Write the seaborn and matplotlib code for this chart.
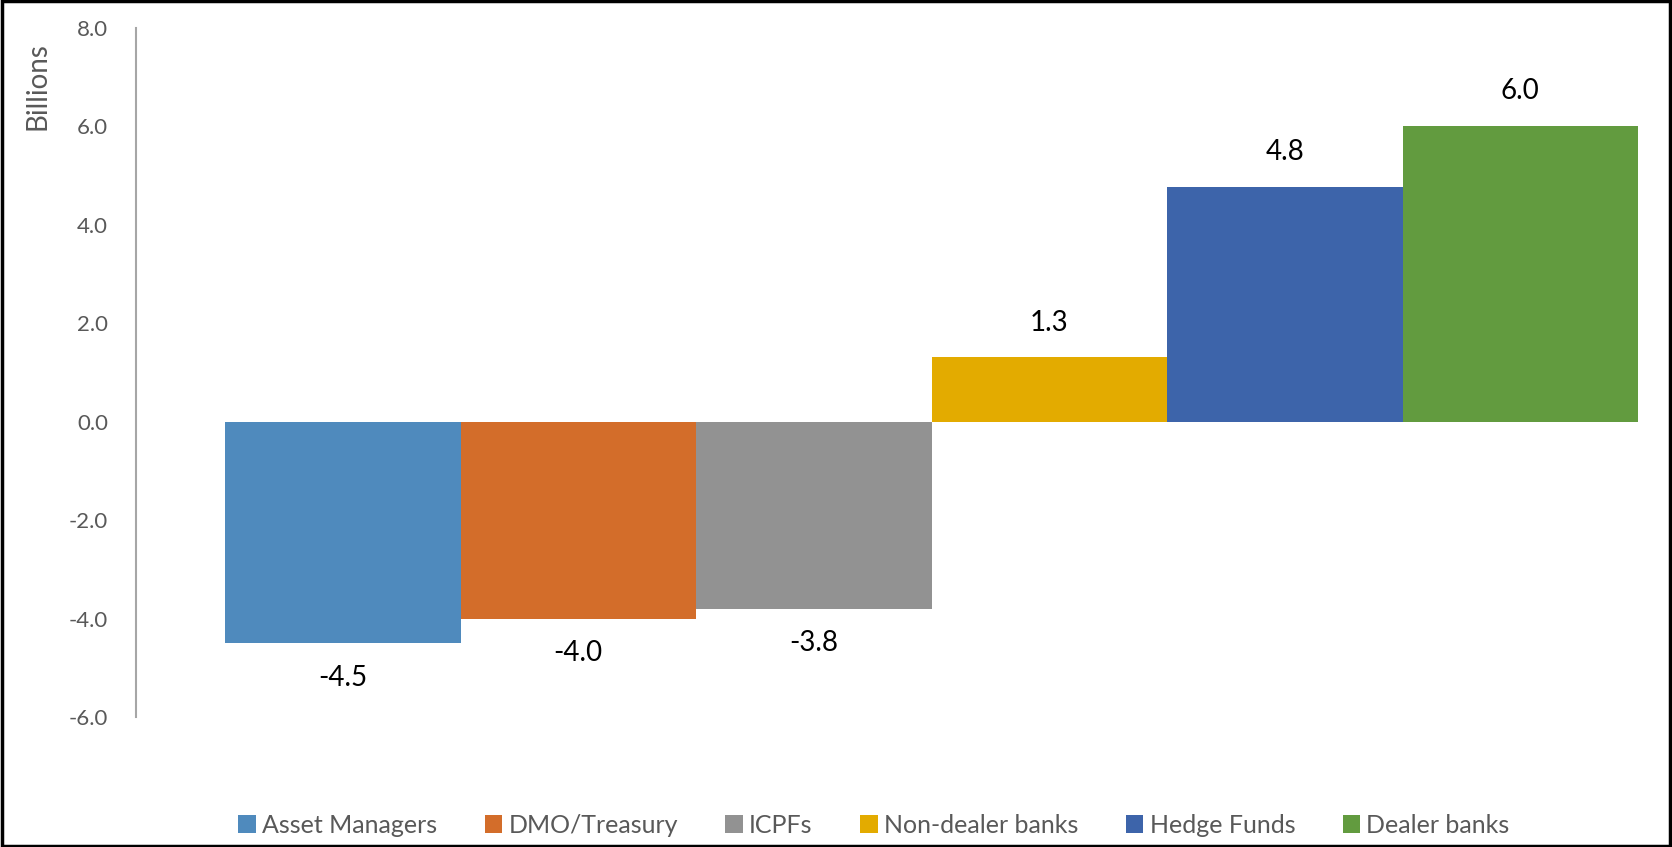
import matplotlib
matplotlib.use("Agg")
import matplotlib.pyplot as plt
import seaborn as sns
import pandas as pd
from matplotlib.patches import Patch, Rectangle

categories = ["Asset Managers", "DMO/Treasury", "ICPFs", "Non-dealer banks", "Hedge Funds", "Dealer banks"]
values = [-4.5, -4.0, -3.8, 1.3, 4.76, 6.0]
colors = ["#4F8ABD", "#D36D2A", "#929292", "#E3AB00", "#3D64AA", "#629B3F"]
yticks = [-6, -4, -2, 0, 2, 4, 6, 8]

sns.set_theme(style="white")
plt.rcParams['font.family'] = ['Lato', 'DejaVu Sans']

df = pd.DataFrame({"category": categories, "value": values})

fig = plt.figure(figsize=(16.72, 8.47), dpi=100)
ax = fig.add_axes([136/1672, 1-717/847, (1638-136)/1672, (717-27.5)/847])

sns.barplot(data=df, x="category", y="value", hue="category", order=categories,
            hue_order=categories, palette=colors, width=1.0, legend=False,
            saturation=1.0, linewidth=0, edgecolor="none", ax=ax)

ax.set_xlim(-0.878, 5.5)
ax.set_ylim(-6, 8)
ax.set_yticks(yticks)
ax.set_yticklabels([f"{t:.1f}" for t in yticks], color="#595959", fontsize=16)
ax.tick_params(axis="y", length=0, pad=20)
ax.set_xticks([])
ax.set_xlabel("")
ax.set_ylabel("")
for s in ["top", "right", "bottom"]:
    ax.spines[s].set_visible(False)
ax.spines["left"].set_color("#A6A6A6")
ax.spines["left"].set_linewidth(1.5)

for i, v in enumerate(values):
    ax.annotate(f"{v:.1f}", xy=(i, v), xytext=(0, 25 if v > 0 else -25),
                textcoords="offset points", ha="center", va="center",
                fontsize=20, color="#000000")

fig.text(37/1672, 1-86/847, "Billions", rotation=90, ha="center", va="center",
         fontsize=20, color="#595959")

handles = [Patch(facecolor=c, edgecolor="none", label=l) for c, l in zip(colors, categories)]
fig.legend(handles=handles, loc="center", bbox_to_anchor=(874/1672, 1-825/847),
           ncol=6, frameon=False, fontsize=18, handlelength=0.7, handleheight=0.7,
           handletextpad=0.25, columnspacing=1.9, labelcolor="#595959")

fig.patches.append(Rectangle((0.001, 0.001), 0.998, 0.998, transform=fig.transFigure,
                             fill=False, edgecolor="black", linewidth=2.5))

fig.savefig("out.png", dpi=100)
